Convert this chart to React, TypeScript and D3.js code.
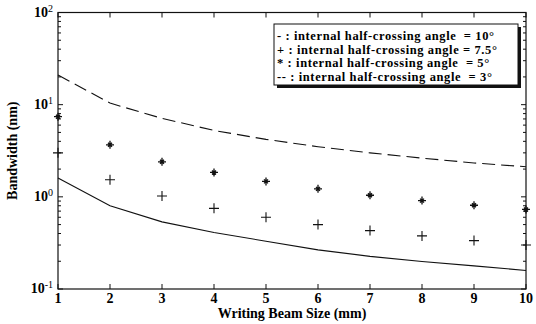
import React, {useEffect, useRef} from 'react';
import * as d3 from 'd3';

// writing beam size (mm)
const beamSize = [1, 2, 3, 4, 5, 6, 7, 8, 9, 10];

// bandwidth (nm) per internal half-crossing angle
const angle10 = [1.6, 0.8, 0.535, 0.41, 0.33, 0.266, 0.226, 0.199, 0.178, 0.159];
const angle75 = [3.0, 1.53, 1.02, 0.75, 0.6, 0.5, 0.43, 0.377, 0.335, 0.3];
const angle5 = [7.4, 3.67, 2.4, 1.84, 1.47, 1.22, 1.04, 0.91, 0.81, 0.73];
const angle3 = [21, 10.4, 7.1, 5.25, 4.2, 3.5, 3.0, 2.63, 2.33, 2.12];

const yTickExp = [-1, 0, 1, 2];
const legendLabels = [
    '- : internal half-crossing angle  = 10\u00b0',
    '+ : internal half-crossing angle = 7.5\u00b0',
    '* : internal half-crossing angle  = 5\u00b0',
    '-- : internal half-crossing angle  = 3\u00b0',
];

function App() {
    const svgRef = useRef(null);
    const width = 536;
    const height = 324;

    useEffect(() => {
        const svg = d3.select(svgRef.current);
        svg.selectAll('*').remove();

        const font = 'Liberation Serif, Times New Roman, serif';
        const margin = {top: 12.5, right: 10, bottom: 35, left: 58};

        const x = d3.scaleLinear()
            .domain([1, 10])
            .range([margin.left, width - margin.right]);

        const y = d3.scaleLog()
            .domain([0.1, 100])
            .range([height - margin.bottom, margin.top]);

        const x0 = margin.left, x1 = width - margin.right;
        const y0 = height - margin.bottom, y1 = margin.top;

        // frame
        svg.append('rect')
            .attr('x', x0).attr('y', y1)
            .attr('width', x1 - x0).attr('height', y0 - y1)
            .attr('fill', 'white')
            .attr('stroke', '#111')
            .attr('stroke-width', 1.2);

        // x ticks, bottom and top
        const xt = svg.append('g');
        beamSize.forEach(v => {
            xt.append('line').attr('x1', x(v)).attr('x2', x(v)).attr('y1', y0).attr('y2', y0 - 5)
                .attr('stroke', '#111');
            xt.append('line').attr('x1', x(v)).attr('x2', x(v)).attr('y1', y1).attr('y2', y1 + 5)
                .attr('stroke', '#111');
            xt.append('text')
                .attr('x', x(v)).attr('y', y0 + 14)
                .attr('text-anchor', 'middle')
                .attr('font-family', font).attr('font-size', 14).attr('font-weight', 'bold')
                .text(v);
        });

        // y ticks (log), left and right
        const yt = svg.append('g');
        yTickExp.forEach(e => {
            const v = Math.pow(10, e);
            [x0, x1].forEach((xx, i) => {
                yt.append('line').attr('x1', xx).attr('x2', i === 0 ? xx + 5 : xx - 5)
                    .attr('y1', y(v)).attr('y2', y(v)).attr('stroke', '#111');
            });
            const t = yt.append('text')
                .attr('x', x0 - 5).attr('y', y(v) + 4)
                .attr('text-anchor', 'end')
                .attr('font-family', font).attr('font-size', 14).attr('font-weight', 'bold');
            t.append('tspan').text('10');
            t.append('tspan').attr('dy', -5).attr('font-size', 10).attr('font-weight', 'normal').text(e);
            if (e < 2) {
                d3.range(2, 10).forEach(m => {
                    const mv = m * v;
                    [x0, x1].forEach((xx, i) => {
                        yt.append('line').attr('x1', xx).attr('x2', i === 0 ? xx + 3 : xx - 3)
                            .attr('y1', y(mv)).attr('y2', y(mv)).attr('stroke', '#111');
                    });
                });
            }
        });

        const line = d3.line()
            .x((d, i) => x(beamSize[i]))
            .y(d => y(d));

        svg.append('path')
            .datum(angle10)
            .attr('d', line)
            .attr('fill', 'none')
            .attr('stroke', '#111')
            .attr('stroke-width', 1.1);

        svg.append('path')
            .datum(angle3)
            .attr('d', line)
            .attr('fill', 'none')
            .attr('stroke', '#111')
            .attr('stroke-width', 1.1)
            .attr('stroke-dasharray', '13,6');

        // + markers
        svg.append('g')
            .selectAll('path')
            .data(angle75)
            .join('path')
            .attr('d', (d, i) => {
                const cx = x(beamSize[i]), cy = y(d), s = 5;
                return `M${cx - s},${cy}H${cx + s}M${cx},${cy - s}V${cy + s}`;
            })
            .attr('stroke', '#111')
            .attr('stroke-width', 1.1);

        // * markers
        svg.append('g')
            .selectAll('path')
            .data(angle5)
            .join('path')
            .attr('d', (d, i) => {
                const cx = x(beamSize[i]), cy = y(d), s = 4, k = 2;
                return `M${cx - s},${cy}H${cx + s}M${cx},${cy - s}V${cy + s}` +
                    `M${cx - k},${cy - k}L${cx + k},${cy + k}M${cx - k},${cy + k}L${cx + k},${cy - k}`;
            })
            .attr('stroke', '#111')
            .attr('stroke-width', 1.3);

        // legend box with shadow
        const lg = svg.append('g');
        lg.append('rect')
            .attr('x', 277).attr('y', 27).attr('width', 244).attr('height', 61)
            .attr('fill', '#111');
        lg.append('rect')
            .attr('x', 274).attr('y', 24).attr('width', 244).attr('height', 61)
            .attr('fill', 'white').attr('stroke', '#111').attr('stroke-width', 1);
        lg.selectAll('text')
            .data(legendLabels)
            .join('text')
            .attr('x', 277)
            .attr('y', (d, i) => 40 + i * 13.5)
            .attr('font-family', font).attr('font-size', 12.5).attr('font-weight', 'bold')
            .attr('letter-spacing', 0.6)
            .style('white-space', 'pre')
            .text(d => d);

        // axis titles
        svg.append('text')
            .attr('x', (x0 + x1) / 2).attr('y', 318)
            .attr('text-anchor', 'middle')
            .attr('font-family', font).attr('font-size', 14).attr('font-weight', 'bold')
            .text('Writing Beam Size (mm)');

        svg.append('text')
            .attr('transform', `translate(17, ${(y0 + y1) / 2}) rotate(-90)`)
            .attr('text-anchor', 'middle')
            .attr('font-family', font).attr('font-size', 14).attr('font-weight', 'bold')
            .text('Bandwidth (nm)');

    }, []);

    return (
        <div style={{position: 'absolute', left: 0, top: 0}}>
            <svg ref={svgRef} width={width} height={height} style={{display: 'block', background: 'white'}}/>
        </div>
    );
}

export default App;
